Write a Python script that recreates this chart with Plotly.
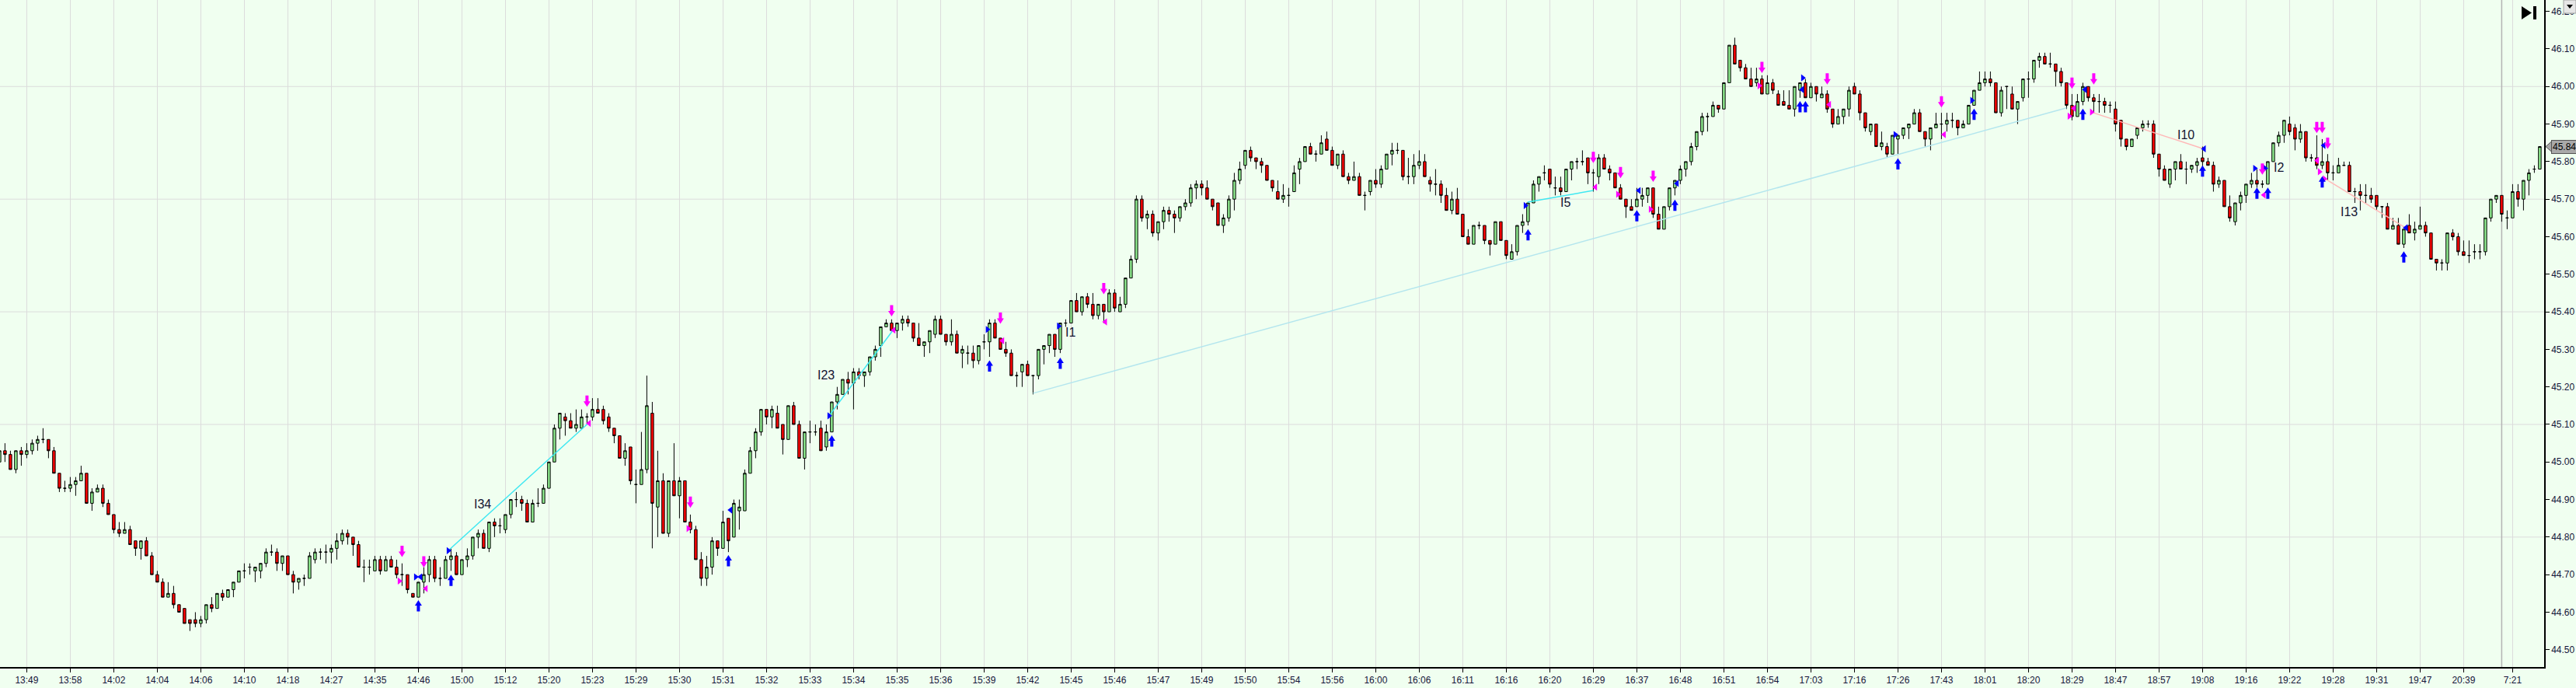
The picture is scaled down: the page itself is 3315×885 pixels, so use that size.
import plotly.graph_objects as go

# tick chart: one candle per bar index, 8 bars between time labels
opens = [
    45.00, 45.03, 45.02, 44.98, 45.03, 45.02, 45.03, 45.05, 45.06, 45.06,
    45.03, 44.97, 44.93, 44.93, 44.94, 44.95, 44.97, 44.89, 44.92, 44.93,
    44.89, 44.86, 44.82, 44.81, 44.82, 44.79, 44.77, 44.79, 44.75, 44.70,
    44.68, 44.64, 44.65, 44.62, 44.61, 44.58, 44.58, 44.57, 44.58, 44.62,
    44.61, 44.65, 44.64, 44.66, 44.68, 44.71, 44.72, 44.71, 44.71, 44.73,
    44.76, 44.76, 44.73, 44.75, 44.70, 44.68, 44.69, 44.69, 44.74, 44.76,
    44.76, 44.76, 44.77, 44.79, 44.81, 44.80, 44.78, 44.72, 44.72, 44.71,
    44.74, 44.71, 44.74, 44.72, 44.70, 44.70, 44.65, 44.64, 44.68, 44.70,
    44.74, 44.69, 44.69, 44.74, 44.75, 44.70, 44.74, 44.75, 44.80, 44.81,
    44.77, 44.84, 44.83, 44.82, 44.86, 44.90, 44.90, 44.89, 44.84, 44.89,
    44.89, 44.93, 45.00, 45.09, 45.12, 45.11, 45.09, 45.09, 45.12, 45.12,
    45.14, 45.14, 45.12, 45.09, 45.07, 45.01, 45.04, 44.94, 44.94, 44.98,
    45.13, 44.88, 44.95, 44.81, 44.95, 44.91, 44.95, 44.84, 44.82, 44.74,
    44.69, 44.72, 44.79, 44.77, 44.85, 44.80, 44.87, 44.87, 44.97, 45.03,
    45.08, 45.14, 45.12, 45.13, 45.10, 45.06, 45.15, 45.10, 45.01, 45.08,
    45.08, 45.09, 45.04, 45.08, 45.16, 45.18, 45.22, 45.21, 45.24, 45.23,
    45.24, 45.28, 45.31, 45.36, 45.37, 45.35, 45.37, 45.38, 45.37, 45.33,
    45.31, 45.32, 45.34, 45.38, 45.34, 45.32, 45.34, 45.29, 45.29, 45.29,
    45.27, 45.32, 45.32, 45.37, 45.33, 45.30, 45.29, 45.23, 45.24, 45.26,
    45.23, 45.23, 45.30, 45.31, 45.34, 45.30, 45.37, 45.37, 45.43, 45.40,
    45.44, 45.42, 45.39, 45.42, 45.40, 45.45, 45.40, 45.42, 45.49, 45.54,
    45.70, 45.65, 45.66, 45.61, 45.64, 45.67, 45.66, 45.65, 45.68, 45.69,
    45.73, 45.74, 45.73, 45.70, 45.69, 45.63, 45.65, 45.70, 45.75, 45.79,
    45.83, 45.81, 45.80, 45.79, 45.75, 45.72, 45.70, 45.71, 45.72, 45.78,
    45.80, 45.84, 45.82, 45.82, 45.86, 45.83, 45.79, 45.82, 45.76, 45.75,
    45.76, 45.71, 45.72, 45.75, 45.74, 45.78, 45.82, 45.83, 45.83, 45.76,
    45.76, 45.79, 45.80, 45.75, 45.74, 45.74, 45.71, 45.67, 45.70, 45.66,
    45.60, 45.58, 45.63, 45.63, 45.59, 45.58, 45.64, 45.59, 45.54, 45.56,
    45.63, 45.64, 45.69, 45.74, 45.77, 45.78, 45.73, 45.73, 45.72, 45.78,
    45.80, 45.80, 45.81, 45.77, 45.76, 45.81, 45.78, 45.77, 45.73, 45.70,
    45.68, 45.68, 45.70, 45.71, 45.73, 45.66, 45.62, 45.68, 45.73, 45.75,
    45.78, 45.80, 45.84, 45.88, 45.92, 45.92, 45.95, 45.94, 46.01, 46.11,
    46.07, 46.05, 46.02, 46.01, 46.02, 45.98, 46.01, 45.98, 45.96, 45.95,
    45.94, 45.99, 46.01, 45.97, 46.00, 45.97, 45.98, 45.94, 45.90, 45.92,
    45.94, 46.00, 45.98, 45.93, 45.88, 45.90, 45.84, 45.84, 45.82, 45.86,
    45.87, 45.89, 45.90, 45.93, 45.88, 45.86, 45.89, 45.90, 45.90, 45.91,
    45.91, 45.89, 45.90, 45.95, 45.99, 46.01, 46.02, 46.01, 45.93, 46.00,
    45.98, 45.94, 45.97, 46.02, 46.02, 46.07, 46.08, 46.06, 46.06, 46.04,
    46.01, 45.95, 45.92, 45.96, 46.00, 45.97, 45.96, 45.96, 45.95, 45.94,
    45.91, 45.86, 45.84, 45.87, 45.89, 45.90, 45.90, 45.82, 45.78, 45.74,
    45.78, 45.80, 45.78, 45.78, 45.79, 45.81, 45.80, 45.79, 45.74, 45.75,
    45.68, 45.64, 45.69, 45.71, 45.74, 45.75, 45.74, 45.74, 45.80, 45.85,
    45.87, 45.90, 45.89, 45.86, 45.88, 45.81, 45.81, 45.79, 45.80, 45.77,
    45.77, 45.79, 45.79, 45.72, 45.72, 45.71, 45.71, 45.71, 45.68, 45.68,
    45.62, 45.63, 45.58, 45.63, 45.61, 45.62, 45.63, 45.61, 45.54, 45.53,
    45.53, 45.61, 45.60, 45.56, 45.55, 45.56, 45.56, 45.56, 45.65, 45.70,
    45.71, 45.65, 45.65, 45.72, 45.70, 45.75, 45.78, 45.78,
]
highs = [
    45.04, 45.05, 45.03, 45.03, 45.04, 45.05, 45.06, 45.07, 45.09, 45.06,
    45.04, 44.97, 44.95, 44.96, 44.96, 44.99, 44.97, 44.93, 44.94, 44.94,
    44.90, 44.86, 44.84, 44.84, 44.83, 44.79, 44.79, 44.80, 44.76, 44.71,
    44.69, 44.68, 44.67, 44.62, 44.61, 44.58, 44.60, 44.59, 44.62, 44.64,
    44.65, 44.66, 44.66, 44.68, 44.71, 44.73, 44.73, 44.72, 44.73, 44.77,
    44.78, 44.77, 44.75, 44.75, 44.71, 44.69, 44.70, 44.76, 44.77, 44.77,
    44.78, 44.78, 44.81, 44.82, 44.82, 44.80, 44.79, 44.74, 44.74, 44.75,
    44.75, 44.75, 44.75, 44.74, 44.73, 44.70, 44.65, 44.68, 44.72, 44.75,
    44.75, 44.72, 44.75, 44.77, 44.76, 44.74, 44.77, 44.80, 44.82, 44.82,
    44.84, 44.85, 44.85, 44.86, 44.90, 44.92, 44.91, 44.90, 44.90, 44.93,
    44.94, 45.00, 45.10, 45.13, 45.13, 45.13, 45.14, 45.14, 45.13, 45.17,
    45.17, 45.15, 45.13, 45.09, 45.07, 45.05, 45.04, 44.98, 45.08, 45.23,
    45.16, 45.03, 44.97, 44.95, 45.05, 44.96, 44.95, 44.86, 44.83, 44.76,
    44.75, 44.80, 44.79, 44.87, 44.85, 44.90, 44.90, 44.98, 45.04, 45.09,
    45.14, 45.14, 45.15, 45.15, 45.10, 45.15, 45.16, 45.11, 45.08, 45.11,
    45.10, 45.11, 45.10, 45.16, 45.20, 45.22, 45.24, 45.25, 45.25, 45.24,
    45.28, 45.31, 45.36, 45.38, 45.38, 45.37, 45.39, 45.39, 45.37, 45.37,
    45.32, 45.35, 45.39, 45.39, 45.34, 45.38, 45.35, 45.31, 45.31, 45.31,
    45.31, 45.34, 45.38, 45.38, 45.33, 45.32, 45.30, 45.24, 45.26, 45.27,
    45.23, 45.30, 45.31, 45.34, 45.34, 45.37, 45.38, 45.43, 45.45, 45.44,
    45.45, 45.45, 45.42, 45.42, 45.46, 45.46, 45.44, 45.49, 45.55, 45.71,
    45.71, 45.67, 45.67, 45.64, 45.68, 45.68, 45.67, 45.68, 45.70, 45.74,
    45.75, 45.75, 45.75, 45.70, 45.69, 45.66, 45.71, 45.77, 45.80, 45.83,
    45.84, 45.81, 45.81, 45.79, 45.75, 45.75, 45.74, 45.73, 45.79, 45.81,
    45.84, 45.85, 45.83, 45.87, 45.88, 45.84, 45.82, 45.83, 45.77, 45.80,
    45.77, 45.72, 45.75, 45.78, 45.79, 45.82, 45.85, 45.85, 45.83, 45.81,
    45.82, 45.83, 45.82, 45.76, 45.78, 45.75, 45.73, 45.72, 45.73, 45.66,
    45.62, 45.63, 45.64, 45.63, 45.59, 45.64, 45.64, 45.59, 45.58, 45.63,
    45.66, 45.69, 45.75, 45.76, 45.79, 45.78, 45.76, 45.76, 45.78, 45.80,
    45.81, 45.83, 45.81, 45.78, 45.82, 45.82, 45.79, 45.77, 45.74, 45.70,
    45.70, 45.73, 45.73, 45.73, 45.73, 45.68, 45.68, 45.73, 45.75, 45.79,
    45.80, 45.85, 45.88, 45.93, 45.93, 45.96, 45.95, 46.01, 46.11, 46.13,
    46.07, 46.06, 46.05, 46.05, 46.03, 46.03, 46.02, 45.99, 45.99, 45.99,
    46.00, 46.01, 46.02, 46.01, 46.00, 46.00, 45.99, 45.94, 45.94, 45.94,
    46.00, 46.01, 45.99, 45.93, 45.90, 45.90, 45.88, 45.85, 45.87, 45.87,
    45.89, 45.90, 45.94, 45.94, 45.88, 45.89, 45.93, 45.93, 45.93, 45.93,
    45.91, 45.91, 45.95, 45.99, 46.04, 46.04, 46.04, 46.01, 46.00, 46.00,
    46.00, 45.96, 46.02, 46.04, 46.07, 46.09, 46.09, 46.09, 46.06, 46.05,
    46.01, 45.98, 45.98, 46.01, 46.00, 45.98, 45.98, 45.97, 45.96, 45.96,
    45.91, 45.86, 45.86, 45.89, 45.91, 45.91, 45.91, 45.82, 45.79, 45.78,
    45.80, 45.82, 45.80, 45.79, 45.81, 45.84, 45.81, 45.80, 45.76, 45.75,
    45.71, 45.69, 45.72, 45.74, 45.77, 45.78, 45.75, 45.80, 45.85, 45.88,
    45.91, 45.92, 45.90, 45.90, 45.88, 45.82, 45.87, 45.86, 45.82, 45.79,
    45.81, 45.80, 45.80, 45.73, 45.74, 45.74, 45.73, 45.71, 45.68, 45.69,
    45.65, 45.65, 45.62, 45.66, 45.64, 45.68, 45.64, 45.61, 45.54, 45.54,
    45.61, 45.62, 45.61, 45.59, 45.59, 45.58, 45.58, 45.65, 45.70, 45.71,
    45.71, 45.67, 45.74, 45.74, 45.75, 45.78, 45.79, 45.84,
]
lows = [
    44.99, 45.00, 44.98, 44.97, 44.99, 45.01, 45.02, 45.03, 45.05, 45.01,
    44.97, 44.92, 44.92, 44.92, 44.91, 44.95, 44.89, 44.87, 44.92, 44.88,
    44.86, 44.81, 44.80, 44.81, 44.78, 44.75, 44.74, 44.75, 44.70, 44.68,
    44.64, 44.64, 44.61, 44.60, 44.57, 44.55, 44.56, 44.56, 44.57, 44.60,
    44.61, 44.63, 44.64, 44.64, 44.68, 44.69, 44.70, 44.68, 44.69, 44.72,
    44.75, 44.71, 44.71, 44.70, 44.65, 44.66, 44.67, 44.69, 44.73, 44.74,
    44.73, 44.73, 44.74, 44.78, 44.78, 44.75, 44.72, 44.68, 44.70, 44.71,
    44.70, 44.71, 44.72, 44.69, 44.67, 44.65, 44.64, 44.64, 44.65, 44.68,
    44.68, 44.67, 44.69, 44.71, 44.70, 44.70, 44.72, 44.74, 44.77, 44.77,
    44.76, 44.80, 44.81, 44.81, 44.85, 44.88, 44.87, 44.84, 44.84, 44.88,
    44.89, 44.93, 45.00, 45.06, 45.07, 45.09, 45.08, 45.09, 45.10, 45.11,
    45.13, 45.10, 45.08, 45.05, 45.01, 44.99, 44.94, 44.89, 44.94, 44.97,
    44.77, 44.80, 44.81, 44.80, 44.91, 44.85, 44.84, 44.81, 44.74, 44.67,
    44.67, 44.70, 44.75, 44.77, 44.76, 44.80, 44.82, 44.87, 44.97, 45.01,
    45.07, 45.10, 45.09, 45.09, 45.02, 45.06, 45.10, 45.01, 44.98, 45.05,
    45.07, 45.03, 45.03, 45.08, 45.14, 45.18, 45.18, 45.14, 45.22, 45.20,
    45.23, 45.27, 45.28, 45.36, 45.35, 45.33, 45.35, 45.36, 45.32, 45.31,
    45.28, 45.29, 45.33, 45.34, 45.31, 45.31, 45.29, 45.25, 45.26, 45.25,
    45.26, 45.30, 45.28, 45.33, 45.30, 45.28, 45.23, 45.20, 45.20, 45.23,
    45.18, 45.22, 45.26, 45.29, 45.28, 45.29, 45.36, 45.37, 45.40, 45.39,
    45.41, 45.38, 45.38, 45.37, 45.40, 45.40, 45.40, 45.41, 45.49, 45.53,
    45.64, 45.62, 45.60, 45.59, 45.62, 45.64, 45.61, 45.64, 45.67, 45.68,
    45.70, 45.71, 45.70, 45.67, 45.63, 45.61, 45.64, 45.67, 45.74, 45.78,
    45.80, 45.78, 45.77, 45.75, 45.72, 45.70, 45.69, 45.68, 45.72, 45.74,
    45.80, 45.82, 45.80, 45.82, 45.83, 45.79, 45.78, 45.76, 45.74, 45.75,
    45.71, 45.67, 45.71, 45.73, 45.73, 45.78, 45.79, 45.82, 45.75, 45.74,
    45.74, 45.78, 45.76, 45.72, 45.71, 45.69, 45.67, 45.66, 45.66, 45.60,
    45.58, 45.58, 45.62, 45.58, 45.55, 45.58, 45.59, 45.54, 45.54, 45.55,
    45.61, 45.63, 45.69, 45.72, 45.75, 45.73, 45.71, 45.71, 45.72, 45.75,
    45.78, 45.79, 45.74, 45.72, 45.74, 45.78, 45.75, 45.73, 45.70, 45.65,
    45.67, 45.68, 45.68, 45.69, 45.65, 45.62, 45.62, 45.67, 45.71, 45.74,
    45.76, 45.79, 45.83, 45.87, 45.88, 45.92, 45.93, 45.94, 46.01, 46.06,
    46.04, 46.02, 46.00, 46.00, 45.98, 45.98, 45.98, 45.95, 45.95, 45.94,
    45.92, 45.97, 45.97, 45.97, 45.96, 45.97, 45.93, 45.89, 45.90, 45.90,
    45.92, 45.98, 45.91, 45.88, 45.87, 45.84, 45.83, 45.81, 45.82, 45.82,
    45.86, 45.86, 45.90, 45.88, 45.84, 45.83, 45.89, 45.86, 45.88, 45.89,
    45.87, 45.89, 45.90, 45.95, 45.99, 46.00, 46.00, 45.93, 45.92, 45.94,
    45.94, 45.90, 45.96, 45.97, 46.01, 46.05, 46.06, 46.05, 46.00, 46.00,
    45.94, 45.91, 45.92, 45.95, 45.96, 45.93, 45.93, 45.93, 45.93, 45.88,
    45.84, 45.83, 45.84, 45.86, 45.88, 45.89, 45.81, 45.76, 45.75, 45.73,
    45.75, 45.78, 45.74, 45.77, 45.77, 45.78, 45.79, 45.72, 45.73, 45.68,
    45.64, 45.63, 45.67, 45.69, 45.73, 45.73, 45.73, 45.74, 45.80, 45.84,
    45.85, 45.87, 45.83, 45.85, 45.80, 45.80, 45.78, 45.78, 45.75, 45.75,
    45.77, 45.79, 45.72, 45.69, 45.67, 45.69, 45.69, 45.67, 45.65, 45.62,
    45.62, 45.58, 45.57, 45.61, 45.59, 45.62, 45.60, 45.54, 45.51, 45.51,
    45.51, 45.59, 45.55, 45.55, 45.53, 45.54, 45.54, 45.55, 45.64, 45.69,
    45.64, 45.62, 45.65, 45.68, 45.67, 45.71, 45.77, 45.78,
]
closes = [
    45.03, 45.02, 44.98, 45.03, 45.02, 45.03, 45.05, 45.06, 45.06, 45.03,
    44.97, 44.93, 44.93, 44.94, 44.95, 44.97, 44.89, 44.92, 44.93, 44.89,
    44.86, 44.82, 44.81, 44.82, 44.78, 44.77, 44.79, 44.75, 44.70, 44.68,
    44.64, 44.65, 44.62, 44.60, 44.57, 44.57, 44.57, 44.58, 44.62, 44.61,
    44.65, 44.64, 44.66, 44.68, 44.71, 44.71, 44.72, 44.72, 44.73, 44.76,
    44.76, 44.73, 44.75, 44.70, 44.68, 44.69, 44.69, 44.75, 44.76, 44.76,
    44.76, 44.77, 44.79, 44.81, 44.80, 44.78, 44.72, 44.72, 44.72, 44.74,
    44.71, 44.74, 44.72, 44.70, 44.70, 44.66, 44.64, 44.68, 44.70, 44.74,
    44.69, 44.69, 44.74, 44.75, 44.70, 44.74, 44.75, 44.80, 44.81, 44.77,
    44.84, 44.83, 44.83, 44.86, 44.90, 44.90, 44.89, 44.84, 44.89, 44.89,
    44.93, 45.00, 45.09, 45.13, 45.11, 45.09, 45.10, 45.12, 45.12, 45.14,
    45.13, 45.11, 45.09, 45.07, 45.01, 45.03, 44.95, 44.94, 44.98, 45.15,
    44.89, 44.95, 44.81, 44.95, 44.91, 44.95, 44.84, 44.82, 44.74, 44.69,
    44.72, 44.79, 44.77, 44.84, 44.79, 44.89, 44.88, 44.97, 45.03, 45.08,
    45.14, 45.12, 45.14, 45.09, 45.06, 45.15, 45.10, 45.01, 45.08, 45.08,
    45.08, 45.03, 45.08, 45.16, 45.18, 45.22, 45.21, 45.24, 45.23, 45.24,
    45.28, 45.30, 45.36, 45.37, 45.35, 45.37, 45.38, 45.37, 45.33, 45.31,
    45.32, 45.35, 45.38, 45.34, 45.32, 45.34, 45.29, 45.30, 45.29, 45.27,
    45.31, 45.32, 45.37, 45.33, 45.30, 45.29, 45.23, 45.23, 45.26, 45.23,
    45.23, 45.30, 45.31, 45.34, 45.30, 45.37, 45.37, 45.43, 45.40, 45.44,
    45.42, 45.39, 45.42, 45.40, 45.45, 45.41, 45.42, 45.49, 45.54, 45.70,
    45.65, 45.66, 45.61, 45.64, 45.67, 45.66, 45.65, 45.68, 45.69, 45.73,
    45.74, 45.73, 45.70, 45.68, 45.63, 45.65, 45.70, 45.75, 45.78, 45.83,
    45.81, 45.80, 45.79, 45.75, 45.73, 45.70, 45.71, 45.71, 45.77, 45.80,
    45.84, 45.82, 45.82, 45.85, 45.83, 45.79, 45.82, 45.76, 45.75, 45.76,
    45.71, 45.71, 45.75, 45.74, 45.78, 45.82, 45.83, 45.83, 45.76, 45.76,
    45.79, 45.80, 45.76, 45.74, 45.74, 45.71, 45.67, 45.70, 45.66, 45.60,
    45.58, 45.63, 45.63, 45.59, 45.58, 45.64, 45.59, 45.55, 45.56, 45.63,
    45.64, 45.69, 45.74, 45.76, 45.77, 45.74, 45.73, 45.72, 45.78, 45.80,
    45.80, 45.80, 45.77, 45.77, 45.81, 45.78, 45.77, 45.73, 45.70, 45.68,
    45.67, 45.70, 45.71, 45.73, 45.66, 45.62, 45.68, 45.73, 45.75, 45.78,
    45.80, 45.84, 45.88, 45.92, 45.92, 45.95, 45.94, 46.01, 46.11, 46.06,
    46.05, 46.02, 46.00, 46.02, 45.98, 46.01, 45.99, 45.95, 45.95, 45.94,
    46.00, 46.01, 45.97, 46.00, 45.98, 45.98, 45.94, 45.90, 45.92, 45.94,
    45.99, 45.98, 45.93, 45.89, 45.90, 45.84, 45.85, 45.82, 45.87, 45.87,
    45.89, 45.90, 45.93, 45.88, 45.86, 45.89, 45.90, 45.90, 45.91, 45.91,
    45.89, 45.90, 45.95, 45.99, 46.01, 46.02, 46.01, 45.93, 45.99, 46.00,
    45.94, 45.96, 46.02, 46.02, 46.07, 46.08, 46.06, 46.06, 46.04, 46.01,
    45.95, 45.92, 45.96, 46.00, 45.97, 45.96, 45.96, 45.95, 45.95, 45.90,
    45.86, 45.84, 45.86, 45.89, 45.90, 45.90, 45.82, 45.78, 45.75, 45.78,
    45.80, 45.78, 45.78, 45.79, 45.80, 45.80, 45.79, 45.74, 45.75, 45.68,
    45.65, 45.69, 45.71, 45.74, 45.75, 45.74, 45.74, 45.80, 45.85, 45.87,
    45.91, 45.88, 45.86, 45.88, 45.81, 45.81, 45.79, 45.80, 45.77, 45.77,
    45.79, 45.79, 45.72, 45.72, 45.71, 45.71, 45.70, 45.68, 45.68, 45.62,
    45.63, 45.58, 45.62, 45.61, 45.62, 45.63, 45.61, 45.54, 45.53, 45.53,
    45.61, 45.60, 45.56, 45.55, 45.55, 45.56, 45.56, 45.65, 45.70, 45.71,
    45.66, 45.65, 45.72, 45.70, 45.75, 45.77, 45.78, 45.84,
]

time_labels = [
    "13:49", "13:58", "14:02", "14:04", "14:06", "14:10", "14:18", "14:27",
    "14:35", "14:46", "15:00", "15:12", "15:20", "15:23", "15:29", "15:30",
    "15:31", "15:32", "15:33", "15:34", "15:35", "15:36", "15:39", "15:42",
    "15:45", "15:46", "15:47", "15:49", "15:50", "15:54", "15:56", "16:00",
    "16:06", "16:11", "16:16", "16:20", "16:29", "16:37", "16:48", "16:51",
    "16:54", "17:03", "17:16", "17:26", "17:43", "18:01", "18:20", "18:29",
    "18:47", "18:57", "19:08", "19:16", "19:22", "19:28", "19:31", "19:47",
    "20:39", "7:21",
]

# signal arrows (bar index, price at arrow tip)
sell_bars = [74, 78, 108, 127, 164, 184, 203, 293, 298, 304, 324, 336, 357, 381, 385, 416, 426, 427, 428]
sell_tips = [44.747, 44.719, 45.147, 44.878, 45.388, 45.368, 45.447, 45.796, 45.756, 45.746,
             46.036, 46.005, 45.944, 45.994, 46.005, 45.765, 45.876, 45.876, 45.834]
buy_bars = [77, 83, 134, 153, 182, 195, 281, 301, 308, 331, 332, 349, 363, 383, 405, 415, 417, 427, 442]
buy_tips = [44.632, 44.700, 44.752, 45.071, 45.271, 45.278, 45.620, 45.671, 45.699, 45.961,
            45.961, 45.809, 45.941, 45.941, 45.790, 45.731, 45.731, 45.761, 45.561]

# small pivot triangles
mag_right_x = [73.5, 126.6, 297.5, 303.5, 323.5, 380.5, 384.6, 426.5, 427.4]
mag_right_y = [44.683, 44.823, 45.713, 45.673, 46.002, 45.921, 45.932, 45.773, 45.754]
mag_left_x = [78.4, 108.4, 164.4, 184.4, 203.3, 293.4, 336.4, 357.5, 381.4, 416.3, 426.1]
mag_left_y = [44.663, 45.103, 45.351, 45.323, 45.373, 45.732, 45.952, 45.872, 45.942, 45.711, 45.803]
blue_right_x = [76.5, 82.5, 152.5, 181.6, 194.7, 280.5, 331.5, 348.5, 362.6, 414.6, 416.5]
blue_right_y = [44.694, 44.764, 45.123, 45.353, 45.362, 45.683, 46.023, 45.872, 45.963, 45.782, 45.782]
blue_left_x = [77.4, 134.4, 301.4, 308.4, 331.4, 383.4, 405.3, 427.3, 442.4]
blue_left_y = [44.694, 44.872, 45.723, 45.742, 45.992, 45.992, 45.834, 45.843, 45.624]

# trend segments
cyan_x = [[82.5, 108.3], [152.5, 164.2], [280.9, 293.0]]
cyan_y = [[44.764, 45.104], [45.123, 45.350], [45.692, 45.723]]
pale_x = [190, 380]
pale_y = [45.183, 45.943]
pink_x = [[384.5, 405.2], [427.1, 442.4]]
pink_y = [[45.932, 45.834], [45.758, 45.623]]

wave_labels = ["I34", "I23", "I1", "I5", "I10", "I2", "I13"]
wave_x = [88.8, 151.9, 196.8, 287.9, 401.9, 419.0, 432.0]
wave_y = [44.888, 45.232, 45.346, 45.692, 45.872, 45.785, 45.667]

last_price = 45.84

W, H = 3315, 885
PLOT_W, PLOT_H = 3274, 858
Y_LO, Y_HI = 44.454, 46.2304
AXIS_FONT = "Liberation Sans Narrow, Arial Narrow, Liberation Sans, Arial, sans-serif"

# arrow outline in pixels, tip at (0, 0), pointing down
DOWN_ARROW = [(0, 0), (-4.5, 7), (-2, 7), (-2, 14.5), (2, 14.5), (2, 7), (4.5, 7)]


def px(v):
    return v / PLOT_W


def py(v):
    return 1 - v / PLOT_H


def arrow_path(flip):
    s = -1 if flip else 1
    pts = [f"{x} {s * y}" for x, y in DOWN_ARROW]
    return "M " + " L ".join(pts) + " Z"


bars = list(range(len(closes)))
tick_pos = [5 + 8 * j for j in range(len(time_labels) - 1)] + [462]

fig = go.Figure()

fig.add_trace(go.Scatter(x=pale_x, y=pale_y, mode="lines",
                         line=dict(color="#b4e6ee", width=1.5), hoverinfo="skip"))
for sx, sy in zip(cyan_x, cyan_y):
    fig.add_trace(go.Scatter(x=sx, y=sy, mode="lines",
                             line=dict(color="#3ee8f2", width=1.5), hoverinfo="skip"))
for sx, sy in zip(pink_x, pink_y):
    fig.add_trace(go.Scatter(x=sx, y=sy, mode="lines",
                             line=dict(color="#ffb8b8", width=1.5), hoverinfo="skip"))

fig.add_trace(go.Candlestick(
    x=bars, open=opens, high=highs, low=lows, close=closes,
    increasing=dict(fillcolor="#90ee90", line=dict(color="black", width=1)),
    decreasing=dict(fillcolor="#ff0000", line=dict(color="black", width=1)),
    whiskerwidth=0,
))

for xs, ys, sym, col in [
    (mag_right_x, mag_right_y, "triangle-right", "#ff00ff"),
    (mag_left_x, mag_left_y, "triangle-left", "#ff00ff"),
    (blue_right_x, blue_right_y, "triangle-right", "#0000ff"),
    (blue_left_x, blue_left_y, "triangle-left", "#0000ff"),
]:
    fig.add_trace(go.Scatter(x=xs, y=ys, mode="markers",
                             marker=dict(symbol=sym, size=8, color=col, line=dict(width=0)),
                             hoverinfo="skip"))

annotations = []
for lab, lx, ly in zip(wave_labels, wave_x, wave_y):
    annotations.append(dict(x=lx, y=ly, text=lab, showarrow=False,
                            font=dict(size=16, color="#141432",
                                      family="Liberation Sans, Arial, sans-serif")))

# last price tag on the price scale (box is the annotation, pointer is a shape)
annotations.append(dict(xref="paper", x=px(3283), xanchor="left", y=last_price,
                        text=f"{last_price:.2f}", showarrow=False,
                        bgcolor="#a9a9a9", bordercolor="#555555", borderwidth=1, borderpad=1,
                        font=dict(size=12, color="black", family=AXIS_FONT)))

shapes = []
for g in [44.80, 45.10, 45.40, 45.70, 46.00]:
    shapes.append(dict(type="line", xref="paper", x0=0, x1=1, y0=g, y1=g,
                       line=dict(color="#dcdcdc", width=1), layer="below"))
shapes.append(dict(type="line", x0=460, x1=460, yref="paper", y0=0, y1=1,
                   line=dict(color="#b4b4b4", width=1.5), layer="below"))

for b, t in zip(sell_bars, sell_tips):
    shapes.append(dict(type="path", xsizemode="pixel", ysizemode="pixel",
                       xanchor=b, yanchor=t, path=arrow_path(False),
                       fillcolor="#ff00ff", line=dict(width=0), layer="above"))
for b, t in zip(buy_bars, buy_tips):
    shapes.append(dict(type="path", xsizemode="pixel", ysizemode="pixel",
                       xanchor=b, yanchor=t, path=arrow_path(True),
                       fillcolor="#0000ff", line=dict(width=0), layer="above"))

ty = PLOT_H * (1 - (last_price - Y_LO) / (Y_HI - Y_LO))
shapes.append(dict(type="path", xref="paper", yref="paper",
                   path=f"M {px(3276)} {py(ty)} L {px(3284)} {py(ty - 7)} L {px(3284)} {py(ty + 7)} Z",
                   fillcolor="#a9a9a9", line=dict(color="#555555", width=1), layer="above"))
# scroll-to-end button
shapes.append(dict(type="path", xref="paper", yref="paper",
                   path=f"M {px(3245)} {py(8)} L {px(3258)} {py(16.5)} L {px(3245)} {py(25)} Z",
                   fillcolor="black", line=dict(width=0), layer="above"))
shapes.append(dict(type="rect", xref="paper", yref="paper",
                   x0=px(3260), x1=px(3264), y0=py(25), y1=py(8),
                   fillcolor="black", line=dict(width=0), layer="above"))
# dropdown button in the corner
shapes.append(dict(type="rect", xref="paper", yref="paper",
                   x0=px(3299), x1=px(3315), y0=py(17), y1=py(0),
                   fillcolor="#e6e6e6", line=dict(color="#a0a0a0", width=1), layer="above"))
shapes.append(dict(type="path", xref="paper", yref="paper",
                   path=f"M {px(3303)} {py(6)} L {px(3311)} {py(6)} L {px(3307)} {py(11)} Z",
                   fillcolor="black", line=dict(width=0), layer="above"))

fig.update_layout(
    width=W, height=H,
    margin=dict(l=0, r=W - PLOT_W, t=0, b=H - PLOT_H),
    paper_bgcolor="#f0fff0",
    plot_bgcolor="#f0fff0",
    showlegend=False,
    font=dict(family=AXIS_FONT, size=12, color="#15153a"),
    annotations=annotations,
    shapes=shapes,
    xaxis=dict(
        range=[0.086, 467.8],
        tickmode="array", tickvals=tick_pos, ticktext=time_labels,
        ticks="outside", ticklen=5, tickcolor="black",
        showline=True, linecolor="black", linewidth=1.5,
        showgrid=True, gridcolor="#dcdcdc", gridwidth=1,
        zeroline=False, rangeslider=dict(visible=False),
        tickfont=dict(size=12, color="#15153a", family=AXIS_FONT),
    ),
    yaxis=dict(
        side="right",
        range=[Y_LO, Y_HI],
        tick0=0, dtick=0.1, tickformat=".2f",
        ticks="outside", ticklen=5, tickcolor="black",
        showline=True, linecolor="black", linewidth=1.5,
        showgrid=False, zeroline=False,
        tickfont=dict(size=12, color="#15153a", family=AXIS_FONT),
    ),
)

fig.write_html("out.html", config={"displayModeBar": False},
               post_script="document.body.style.margin='0px';")
